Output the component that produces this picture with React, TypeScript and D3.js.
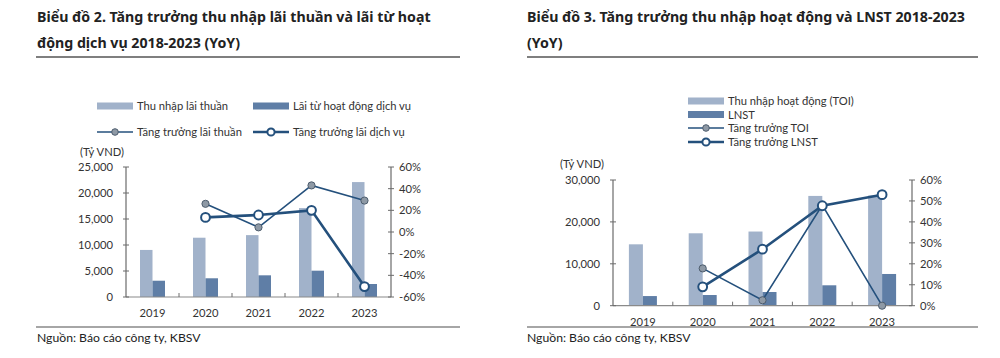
import React from "react";
import * as d3 from "d3";

const years = ["2019", "2020", "2021", "2022", "2023"];

// Chart 2 data
const c2BarA = [9050, 11400, 11900, 17100, 22100]; // Thu nhập lãi thuần
const c2BarB = [3130, 3600, 4170, 5060, 2500]; // Lãi từ hoạt động dịch vụ
const c2LineA = [null, 26, 4.3, 43, 29]; // Tăng trưởng lãi thuần
const c2LineB = [null, 13.5, 15.7, 20, -50.4]; // Tăng trưởng lãi dịch vụ
const c2LeftTicks = [0, 5000, 10000, 15000, 20000, 25000];
const c2RightTicks = [-60, -40, -20, 0, 20, 40, 60];

// Chart 3 data
const c3BarA = [14650, 17280, 17700, 26200, 26300]; // TOI
const c3BarB = [2300, 2550, 3270, 4870, 7570]; // LNST
const c3LineA = [null, 17.8, 2.6, 48, 0]; // Tăng trưởng TOI
const c3LineB = [null, 9, 27, 47.7, 53]; // Tăng trưởng LNST
const c3LeftTicks = [0, 10000, 20000, 30000];
const c3RightTicks = [0, 10, 20, 30, 40, 50, 60];

const LIGHT = "#a1b2ca";
const DARK = "#5f7ea6";
const LINE = "#24507c";
const AXIS = "#6b6b6b";
const FONT = "Lato, 'Noto Sans', sans-serif";
const TFONT = "'Noto Sans', 'Open Sans', sans-serif";
const FS = 11.2;
const fmt = d3.format(",");

type ChartProps = {
  x0: number; x1: number; yTop: number; yBot: number;
  leftMax: number; rightDomain: [number, number];
  leftTicks: number[]; rightTicks: number[];
  barA: number[]; barB: number[];
  lineA: (number | null)[]; lineB: (number | null)[];
  barW: number;
};

function Chart(p: ChartProps) {
  const x = d3.scaleBand<string>().domain(years).range([p.x0, p.x1]);
  const yL = d3.scaleLinear().domain([0, p.leftMax]).range([p.yBot, p.yTop]);
  const yR = d3.scaleLinear().domain(p.rightDomain).range([p.yBot, p.yTop]);
  const cx = (y: string) => (x(y) as number) + x.bandwidth() / 2;
  const line = d3
    .line<[string, number | null]>()
    .defined((d) => d[1] !== null)
    .x((d) => cx(d[0]))
    .y((d) => yR(d[1] as number));
  const pairsA = years.map((y, i) => [y, p.lineA[i]] as [string, number | null]);
  const pairsB = years.map((y, i) => [y, p.lineB[i]] as [string, number | null]);
  return (
    <g fontFamily={FONT}>
      {years.map((y, i) => (
        <g key={y}>
          <rect x={cx(y) - p.barW} y={yL(p.barA[i])} width={p.barW} height={p.yBot - yL(p.barA[i])} fill={LIGHT} />
          <rect x={cx(y)} y={yL(p.barB[i])} width={p.barW} height={p.yBot - yL(p.barB[i])} fill={DARK} />
        </g>
      ))}
      {/* x axis */}
      <line x1={p.x0} x2={p.x1} y1={p.yBot} y2={p.yBot} stroke="#8a8a8a" strokeWidth={1.2} />
      {years.slice(1).map((y) => (
        <line key={y} x1={x(y) as number} x2={x(y) as number} y1={p.yBot} y2={p.yBot - 4} stroke="#6f6f6f" strokeWidth={1} />
      ))}
      {years.map((y) => (
        <text key={y} x={cx(y)} y={p.yBot + 20} fontSize={FS} textAnchor="middle" fill="#333">{y}</text>
      ))}
      {/* left axis */}
      <line x1={p.x0} x2={p.x0} y1={p.yTop} y2={p.yBot} stroke={AXIS} strokeWidth={1.2} />
      {p.leftTicks.map((t) => (
        <g key={t}>
          <line x1={p.x0 - 3} x2={p.x0 + 3} y1={yL(t)} y2={yL(t)} stroke={AXIS} />
          <text x={p.x0 - 13} y={yL(t) + 4} fontSize={FS} textAnchor="end" fill="#333">{fmt(t)}</text>
        </g>
      ))}
      {/* right axis */}
      <line x1={p.x1} x2={p.x1} y1={p.yTop} y2={p.yBot} stroke={AXIS} strokeWidth={1.2} />
      {p.rightTicks.map((t) => (
        <g key={t}>
          <line x1={p.x1 - 3} x2={p.x1 + 3} y1={yR(t)} y2={yR(t)} stroke={AXIS} />
          <text x={p.x1 + 8} y={yR(t) + 4} fontSize={FS} textAnchor="start" fill="#333">{t}%</text>
        </g>
      ))}
      {/* lines */}
      <path d={line(pairsA) || ""} fill="none" stroke={LINE} strokeWidth={1.6} />
      <path d={line(pairsB) || ""} fill="none" stroke={LINE} strokeWidth={2.6} />
      {pairsA.filter((d) => d[1] !== null).map((d) => (
        <circle key={"a" + d[0]} cx={cx(d[0])} cy={yR(d[1] as number)} r={3.6} fill="#8e99a5" stroke="#4d5d6e" strokeWidth={1} />
      ))}
      {pairsB.filter((d) => d[1] !== null).map((d) => (
        <circle key={"b" + d[0]} cx={cx(d[0])} cy={yR(d[1] as number)} r={4.4} fill="#fff" stroke={LINE} strokeWidth={2} />
      ))}
    </g>
  );
}

function BarSwatch({ x, y, color }: { x: number; y: number; color: string }) {
  return <rect x={x} y={y - 3.5} width={36} height={7} fill={color} />;
}
function LineSwatch({ x, y, thick }: { x: number; y: number; thick: boolean }) {
  return (
    <g>
      <line x1={x} x2={x + 36} y1={y} y2={y} stroke={LINE} strokeWidth={thick ? 2.6 : 1.6} />
      {thick ? (
        <circle cx={x + 18} cy={y} r={3.6} fill="#fff" stroke={LINE} strokeWidth={2} />
      ) : (
        <circle cx={x + 18} cy={y} r={3.3} fill="#8e99a5" stroke="#4d5d6e" strokeWidth={1} />
      )}
    </g>
  );
}

export default function App() {
  return (
    <svg width={1000} height={358} style={{ position: "absolute", left: 0, top: 0, background: "#fff" }}>
      <rect x={0} y={0} width={1000} height={358} fill="#fff" />
      {/* Left panel */}
      <g fontFamily={TFONT} fill="#222">
        <text x={37} y={22} fontSize={14.2} fontWeight={700}>Biểu đồ 2. Tăng trưởng thu nhập lãi thuần và lãi từ hoạt</text>
        <text x={37} y={48} fontSize={14.2} fontWeight={700}>động dịch vụ 2018-2023 (YoY)</text>
      </g>
      <line x1={36} x2={460} y1={57} y2={57} stroke="#555" strokeWidth={1.3} />
      <g fontFamily={FONT} fontSize={FS} fill="#333">
        <BarSwatch x={97} y={106} color={LIGHT} />
        <text x={137} y={110}>Thu nhập lãi thuần</text>
        <BarSwatch x={253} y={106} color={DARK} />
        <text x={293} y={110}>Lãi từ hoạt động dịch vụ</text>
        <LineSwatch x={97} y={132} thick={false} />
        <text x={137} y={136}>Tăng trưởng lãi thuần</text>
        <LineSwatch x={253} y={132} thick={true} />
        <text x={293} y={136}>Tăng trưởng lãi dịch vụ</text>
        <text x={80} y={156}>(Tỷ VND)</text>
      </g>
      <Chart x0={126} x1={391} yTop={167} yBot={297} leftMax={25000} rightDomain={[-60, 60]}
        leftTicks={c2LeftTicks} rightTicks={c2RightTicks} barA={c2BarA} barB={c2BarB}
        lineA={c2LineA} lineB={c2LineB} barW={12.5} />
      <line x1={36} x2={460} y1={327} y2={327} stroke="#888" strokeWidth={1.3} />
      <text x={37} y={342} fontFamily={FONT} fontSize={12.2} fill="#222">Nguồn: Báo cáo công ty, KBSV</text>

      {/* Right panel */}
      <g fontFamily={TFONT} fill="#222">
        <text x={527} y={22} fontSize={14.2} fontWeight={700}>Biểu đồ 3. Tăng trưởng thu nhập hoạt động và LNST 2018-2023</text>
        <text x={527} y={48} fontSize={14.2} fontWeight={700}>(YoY)</text>
      </g>
      <line x1={527} x2={978} y1={57} y2={57} stroke="#555" strokeWidth={1.3} />
      <g fontFamily={FONT} fontSize={FS} fill="#333">
        <BarSwatch x={688} y={101} color={LIGHT} />
        <text x={728} y={105}>Thu nhập hoạt động (TOI)</text>
        <BarSwatch x={688} y={114.5} color={DARK} />
        <text x={728} y={118.5}>LNST</text>
        <LineSwatch x={688} y={128} thick={false} />
        <text x={728} y={132}>Tăng trưởng TOI</text>
        <LineSwatch x={688} y={142} thick={true} />
        <text x={728} y={146}>Tăng trưởng LNST</text>
        <text x={560} y={168}>(Tỷ VND)</text>
      </g>
      <Chart x0={613} x1={912} yTop={180} yBot={305.7} leftMax={30000} rightDomain={[0, 60]}
        leftTicks={c3LeftTicks} rightTicks={c3RightTicks} barA={c3BarA} barB={c3BarB}
        lineA={c3LineA} lineB={c3LineB} barW={14} />
      <line x1={527} x2={978} y1={327} y2={327} stroke="#888" strokeWidth={1.3} />
      <text x={527} y={342} fontFamily={FONT} fontSize={12.2} fill="#222">Nguồn: Báo cáo công ty, KBSV</text>
    </svg>
  );
}
